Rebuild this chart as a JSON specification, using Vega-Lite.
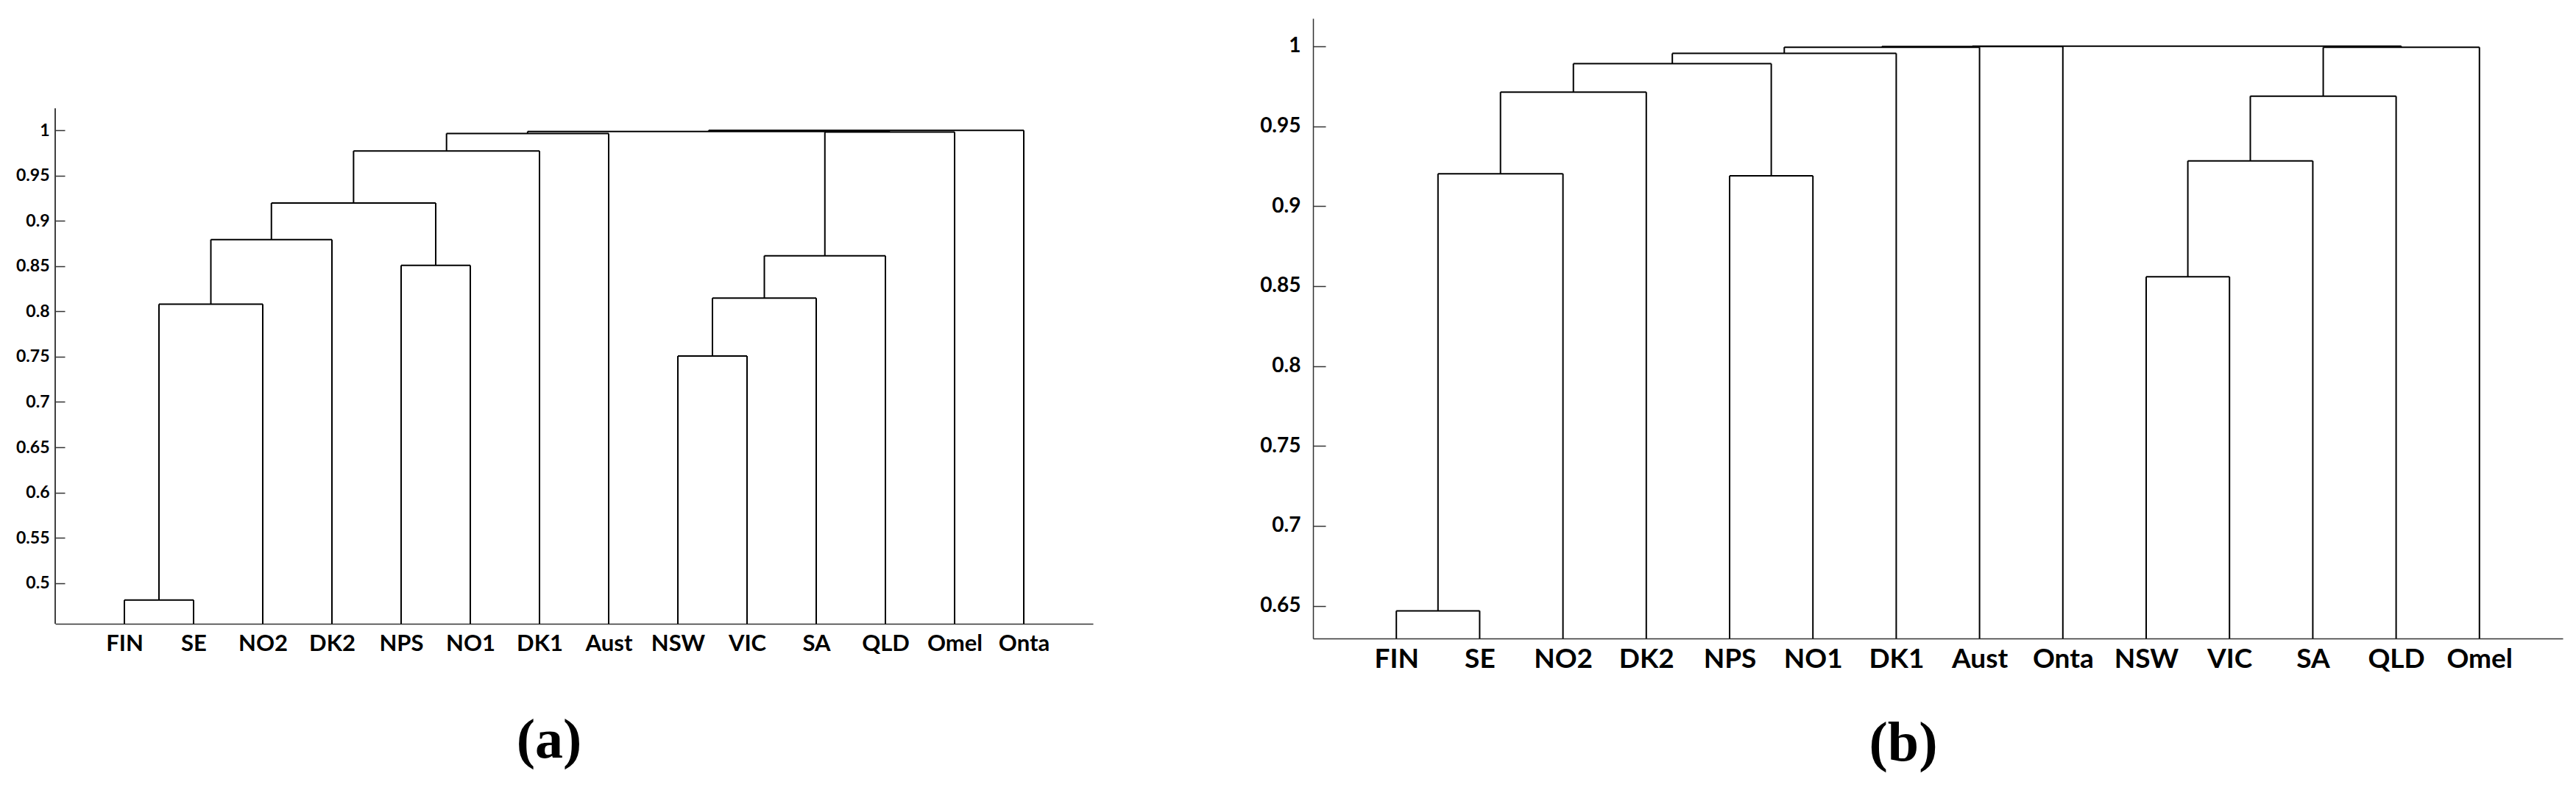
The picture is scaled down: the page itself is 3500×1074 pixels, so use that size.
{
  "$schema": "https://vega.github.io/schema/vega-lite/v6.json",
  "background": "white",
  "padding": {"left": 19, "top": 25, "right": 10, "bottom": 5},
  "bounds": "flush",
  "spacing": 299,
  "config": {"view": {"stroke": null}, "font": "Lato"},
  "datasets": {
    "a": [
      {"kind":"axis","x":0,"x2":0,"y":0.455,"y2":1.0244},
      {"kind":"link","x":1,"x2":1,"y":0.455,"y2":0.4813},{"kind":"link","x":2,"x2":2,"y":0.455,"y2":0.4813},{"kind":"link","x":1,"x2":2,"y":0.4813,"y2":0.4813},
      {"kind":"link","x":1.5,"x2":1.5,"y":0.4813,"y2":0.808},{"kind":"link","x":3,"x2":3,"y":0.455,"y2":0.808},{"kind":"link","x":1.5,"x2":3,"y":0.808,"y2":0.808},
      {"kind":"link","x":2.25,"x2":2.25,"y":0.808,"y2":0.8794},{"kind":"link","x":4,"x2":4,"y":0.455,"y2":0.8794},{"kind":"link","x":2.25,"x2":4,"y":0.8794,"y2":0.8794},
      {"kind":"link","x":5,"x2":5,"y":0.455,"y2":0.8508},{"kind":"link","x":6,"x2":6,"y":0.455,"y2":0.8508},{"kind":"link","x":5,"x2":6,"y":0.8508,"y2":0.8508},
      {"kind":"link","x":3.125,"x2":3.125,"y":0.8794,"y2":0.9197},{"kind":"link","x":5.5,"x2":5.5,"y":0.8508,"y2":0.9197},{"kind":"link","x":3.125,"x2":5.5,"y":0.9197,"y2":0.9197},
      {"kind":"link","x":4.3125,"x2":4.3125,"y":0.9197,"y2":0.9773},{"kind":"link","x":7,"x2":7,"y":0.455,"y2":0.9773},{"kind":"link","x":4.3125,"x2":7,"y":0.9773,"y2":0.9773},
      {"kind":"link","x":5.65625,"x2":5.65625,"y":0.9773,"y2":0.9966},{"kind":"link","x":8,"x2":8,"y":0.455,"y2":0.9966},{"kind":"link","x":5.65625,"x2":8,"y":0.9966,"y2":0.9966},
      {"kind":"link","x":9,"x2":9,"y":0.455,"y2":0.7508},{"kind":"link","x":10,"x2":10,"y":0.455,"y2":0.7508},{"kind":"link","x":9,"x2":10,"y":0.7508,"y2":0.7508},
      {"kind":"link","x":9.5,"x2":9.5,"y":0.7508,"y2":0.8147},{"kind":"link","x":11,"x2":11,"y":0.455,"y2":0.8147},{"kind":"link","x":9.5,"x2":11,"y":0.8147,"y2":0.8147},
      {"kind":"link","x":10.25,"x2":10.25,"y":0.8147,"y2":0.8615},{"kind":"link","x":12,"x2":12,"y":0.455,"y2":0.8615},{"kind":"link","x":10.25,"x2":12,"y":0.8615,"y2":0.8615},
      {"kind":"link","x":11.125,"x2":11.125,"y":0.8615,"y2":0.9981},{"kind":"link","x":13,"x2":13,"y":0.455,"y2":0.9981},{"kind":"link","x":11.125,"x2":13,"y":0.9981,"y2":0.9981},
      {"kind":"link","x":6.828125,"x2":6.828125,"y":0.9966,"y2":0.9988},{"kind":"link","x":12.0625,"x2":12.0625,"y":0.9981,"y2":0.9988},{"kind":"link","x":6.828125,"x2":12.0625,"y":0.9988,"y2":0.9988},
      {"kind":"link","x":9.4453,"x2":9.4453,"y":0.9988,"y2":1.0},{"kind":"link","x":14,"x2":14,"y":0.455,"y2":1.0},{"kind":"link","x":9.4453,"x2":14,"y":1.0,"y2":1.0}
    ],
    "b": [
      {"kind":"link","x":1,"x2":1,"y":0.6296,"y2":0.6469},{"kind":"link","x":2,"x2":2,"y":0.6296,"y2":0.6469},{"kind":"link","x":1,"x2":2,"y":0.6469,"y2":0.6469},
      {"kind":"link","x":1.5,"x2":1.5,"y":0.6469,"y2":0.9202},{"kind":"link","x":3,"x2":3,"y":0.6296,"y2":0.9202},{"kind":"link","x":1.5,"x2":3,"y":0.9202,"y2":0.9202},
      {"kind":"link","x":2.25,"x2":2.25,"y":0.9202,"y2":0.9713},{"kind":"link","x":4,"x2":4,"y":0.6296,"y2":0.9713},{"kind":"link","x":2.25,"x2":4,"y":0.9713,"y2":0.9713},
      {"kind":"link","x":5,"x2":5,"y":0.6296,"y2":0.9189},{"kind":"link","x":6,"x2":6,"y":0.6296,"y2":0.9189},{"kind":"link","x":5,"x2":6,"y":0.9189,"y2":0.9189},
      {"kind":"link","x":3.125,"x2":3.125,"y":0.9713,"y2":0.9891},{"kind":"link","x":5.5,"x2":5.5,"y":0.9189,"y2":0.9891},{"kind":"link","x":3.125,"x2":5.5,"y":0.9891,"y2":0.9891},
      {"kind":"link","x":4.3125,"x2":4.3125,"y":0.9891,"y2":0.9955},{"kind":"link","x":7,"x2":7,"y":0.6296,"y2":0.9955},{"kind":"link","x":4.3125,"x2":7,"y":0.9955,"y2":0.9955},
      {"kind":"link","x":5.65625,"x2":5.65625,"y":0.9955,"y2":0.9994},{"kind":"link","x":8,"x2":8,"y":0.6296,"y2":0.9994},{"kind":"link","x":5.65625,"x2":8,"y":0.9994,"y2":0.9994},
      {"kind":"link","x":10,"x2":10,"y":0.6296,"y2":0.8558},{"kind":"link","x":11,"x2":11,"y":0.6296,"y2":0.8558},{"kind":"link","x":10,"x2":11,"y":0.8558,"y2":0.8558},
      {"kind":"link","x":10.5,"x2":10.5,"y":0.8558,"y2":0.9283},{"kind":"link","x":12,"x2":12,"y":0.6296,"y2":0.9283},{"kind":"link","x":10.5,"x2":12,"y":0.9283,"y2":0.9283},
      {"kind":"link","x":11.25,"x2":11.25,"y":0.9283,"y2":0.9688},{"kind":"link","x":13,"x2":13,"y":0.6296,"y2":0.9688},{"kind":"link","x":11.25,"x2":13,"y":0.9688,"y2":0.9688},
      {"kind":"link","x":12.125,"x2":12.125,"y":0.9688,"y2":0.9993},{"kind":"link","x":14,"x2":14,"y":0.6296,"y2":0.9993},{"kind":"link","x":12.125,"x2":14,"y":0.9993,"y2":0.9993},
      {"kind":"link","x":6.828125,"x2":6.828125,"y":0.9994,"y2":0.99985},{"kind":"link","x":9,"x2":9,"y":0.6296,"y2":0.99985},{"kind":"link","x":6.828125,"x2":9,"y":0.99985,"y2":0.99985},
      {"kind":"link","x":7.9140625,"x2":7.9140625,"y":0.99985,"y2":1.0},{"kind":"link","x":13.0625,"x2":13.0625,"y":0.9993,"y2":1.0},{"kind":"link","x":7.9140625,"x2":13.0625,"y":1.0,"y2":1.0}
    ]
  },
  "hconcat": [
    {
      "width": 1410,
      "height": 823,
      "data": {"name": "a"},
      "title": {"text": "(a)", "orient": "bottom", "anchor": "middle", "dx": -34, "offset": 140, "baseline": "alphabetic", "font": "Liberation Serif", "fontSize": 76, "fontWeight": "bold", "color": "black"},
      "mark": {"type": "rule", "strokeWidth": 2},
      "encoding": {
        "x": {"field": "x", "type": "quantitative", "scale": {"domain": [0, 15], "nice": false, "zero": false},
          "axis": {"title": null, "grid": false, "values": [1,2,3,4,5,6,7,8,9,10,11,12,13,14],
            "labelExpr": "['','FIN','SE','NO2','DK2','NPS','NO1','DK1','Aust','NSW','VIC','SA','QLD','Omel','Onta'][datum.value]",
            "ticks": false, "domainColor": "#333333", "domainWidth": 1.5, "labelFont": "Lato", "labelFontWeight": "bold", "labelFontSize": 31, "labelColor": "black", "labelPadding": 12}},
        "x2": {"field": "x2"},
        "y": {"field": "y", "type": "quantitative", "scale": {"domain": [0.455, 1.1237], "nice": false, "zero": false},
          "axis": {"title": null, "grid": false, "domain": false, "values": [0.5,0.55,0.6,0.65,0.7,0.75,0.8,0.85,0.9,0.95,1], "format": "~g",
            "ticks": true, "tickSize": -13, "tickColor": "#333333", "tickWidth": 1.5, "labelPadding": 21, "labelFont": "Lato", "labelFontWeight": "bold", "labelFontSize": 23, "labelColor": "black", "minExtent": 56, "maxExtent": 56}},
        "y2": {"field": "y2"},
        "color": {"field": "kind", "type": "nominal", "scale": {"domain": ["link", "axis"], "range": ["black", "#404040"]}, "legend": null}
      }
    },
    {
      "width": 1698,
      "height": 843,
      "data": {"name": "b"},
      "title": {"text": "(b)", "orient": "bottom", "anchor": "middle", "dx": -47, "offset": 120, "baseline": "alphabetic", "font": "Liberation Serif", "fontSize": 76, "fontWeight": "bold", "color": "black"},
      "mark": {"type": "rule", "strokeWidth": 2, "color": "black"},
      "encoding": {
        "x": {"field": "x", "type": "quantitative", "scale": {"domain": [0, 15], "nice": false, "zero": false},
          "axis": {"title": null, "grid": false, "values": [1,2,3,4,5,6,7,8,9,10,11,12,13,14],
            "labelExpr": "['','FIN','SE','NO2','DK2','NPS','NO1','DK1','Aust','Onta','NSW','VIC','SA','QLD','Omel'][datum.value]",
            "ticks": false, "domainColor": "#333333", "domainWidth": 1.5, "labelFont": "Lato", "labelFontWeight": "bold", "labelFontSize": 37, "labelColor": "black", "labelPadding": 10}},
        "x2": {"field": "x2"},
        "y": {"field": "y", "type": "quantitative", "scale": {"domain": [0.6296, 1.0174], "nice": false, "zero": false},
          "axis": {"title": null, "grid": false, "domain": true, "domainColor": "#333333", "domainWidth": 1.5, "values": [0.65,0.7,0.75,0.8,0.85,0.9,0.95,1], "format": "~g",
            "ticks": true, "tickSize": -17, "tickColor": "#333333", "tickWidth": 1.5, "labelPadding": 34, "labelFont": "Lato", "labelFontWeight": "bold", "labelFontSize": 28, "labelColor": "black"}},
        "y2": {"field": "y2"}
      }
    }
  ]
}
